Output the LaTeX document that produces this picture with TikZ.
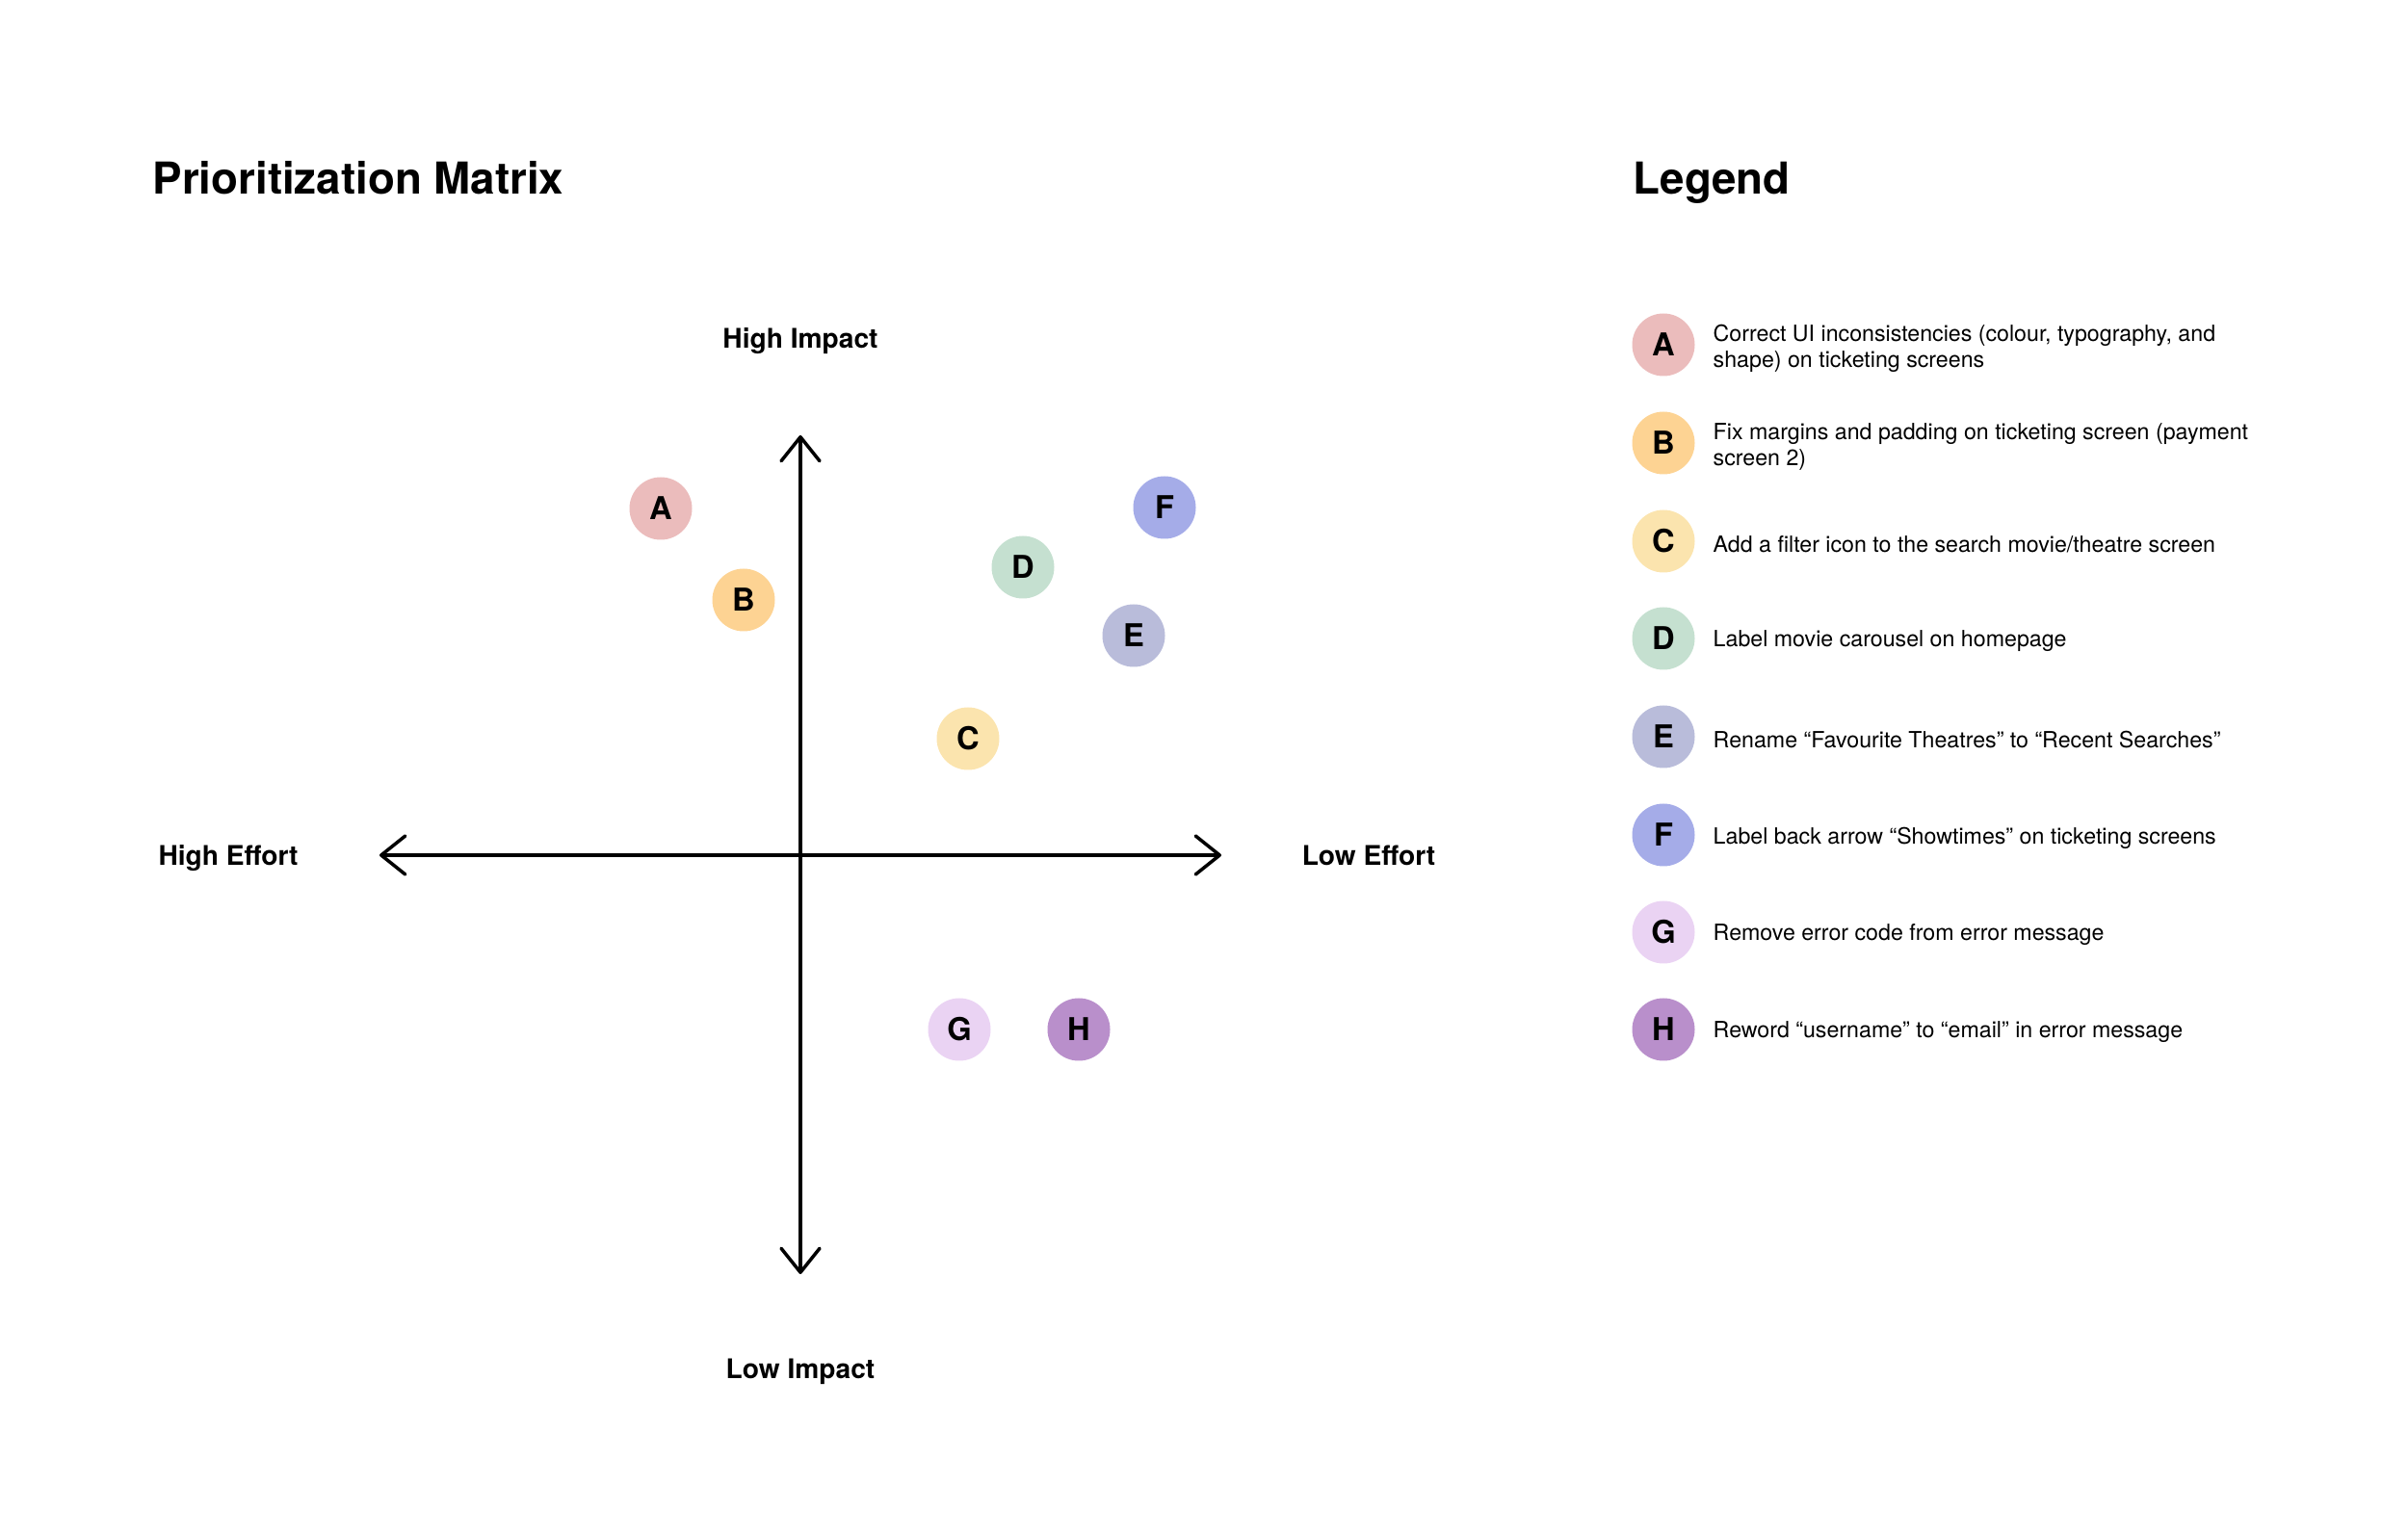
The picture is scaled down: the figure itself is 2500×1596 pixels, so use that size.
\documentclass[tikz,border=0pt]{standalone}
\usepackage{fontspec}
\setmainfont{TeX Gyre Heros}
\usetikzlibrary{arrows.meta}

\definecolor{itemA}{HTML}{EBBCBC}
\definecolor{itemB}{HTML}{FDD393}
\definecolor{itemC}{HTML}{FBE4AE}
\definecolor{itemD}{HTML}{C5E0D0}
\definecolor{itemE}{HTML}{B9BCDA}
\definecolor{itemF}{HTML}{A5ACE8}
\definecolor{itemG}{HTML}{EAD3F3}
\definecolor{itemH}{HTML}{B98FCB}

\begin{document}
\begin{tikzpicture}[x=0.1mm,y=-0.1mm]
    \tikzstyle{axis}=[line width=1pt,{Straight Barb[length=2.5mm,width=4mm,round]}-{Straight Barb[length=2.5mm,width=4mm,round]}]
    \tikzstyle{dot}=[circle,draw=none,minimum size=6.5mm,inner sep=0pt,font=\fontsize{9.3}{10}\selectfont\bfseries]
    \tikzstyle{axislabel}=[anchor=base,inner sep=0pt,font=\fontsize{8}{9}\selectfont\bfseries]
    \tikzstyle{heading}=[anchor=base west,inner sep=0pt,font=\fontsize{13}{16}\selectfont\bfseries]
    \tikzstyle{entry}=[anchor=west,align=left,inner sep=0pt,font=\fontsize{6.6}{7.7}\selectfont]
    \useasboundingbox (0,0) rectangle (2500,1596);
    % Headings
    \node[heading] (title) at (158,202) {Prioritization Matrix};
    \node[heading] (legend) at (1695,202) {Legend};
    % Axes
    \coordinate (top) at (831,452);
    \coordinate (bottom) at (831,1323);
    \coordinate (left) at (394,888);
    \coordinate (right) at (1268,888);
    \draw[axis] (left) -- (right);
    \draw[axis] (top) -- (bottom);
    \node[axislabel] (himpact) at (831,362) {High Impact};
    \node[axislabel] (limpact) at (831,1431) {Low Impact};
    \node[axislabel] (heffort) at (237,899) {High Effort};
    \node[axislabel] (leffort) at (1421,899) {Low Effort};
    % Matrix items
    \node[dot,fill=itemA] (mA) at (686,528) {A};
    \node[dot,fill=itemB] (mB) at (772,623) {B};
    \node[dot,fill=itemC] (mC) at (1005,767) {C};
    \node[dot,fill=itemD] (mD) at (1062,589) {D};
    \node[dot,fill=itemE] (mE) at (1177,660) {E};
    \node[dot,fill=itemF] (mF) at (1209,527) {F};
    \node[dot,fill=itemG] (mG) at (996,1069) {G};
    \node[dot,fill=itemH] (mH) at (1120,1069) {H};
    % Legend items
    \node[dot,fill=itemA] (lA) at (1727,358) {A};
    \node[dot,fill=itemB] (lB) at (1727,460) {B};
    \node[dot,fill=itemC] (lC) at (1727,562) {C};
    \node[dot,fill=itemD] (lD) at (1727,663) {D};
    \node[dot,fill=itemE] (lE) at (1727,765) {E};
    \node[dot,fill=itemF] (lF) at (1727,867) {F};
    \node[dot,fill=itemG] (lG) at (1727,968) {G};
    \node[dot,fill=itemH] (lH) at (1727,1069) {H};
    \node[entry] (tA) at (1778,362) {Correct UI inconsistencies (colour, typography, and\\shape) on ticketing screens};
    \node[entry] (tB) at (1778,464) {Fix margins and padding on ticketing screen (payment\\screen 2)};
    \node[entry] (tC) at (1778,565) {Add a filter icon to the search movie/theatre screen};
    \node[entry] (tD) at (1778,666) {Label movie carousel on homepage};
    \node[entry] (tE) at (1778,768) {Rename “Favourite Theatres” to “Recent Searches”};
    \node[entry] (tF) at (1778,870) {Label back arrow “Showtimes” on ticketing screens};
    \node[entry] (tG) at (1778,971) {Remove error code from error message};
    \node[entry] (tH) at (1778,1072) {Reword “username” to “email” in error message};
  \end{tikzpicture}
\end{document}
